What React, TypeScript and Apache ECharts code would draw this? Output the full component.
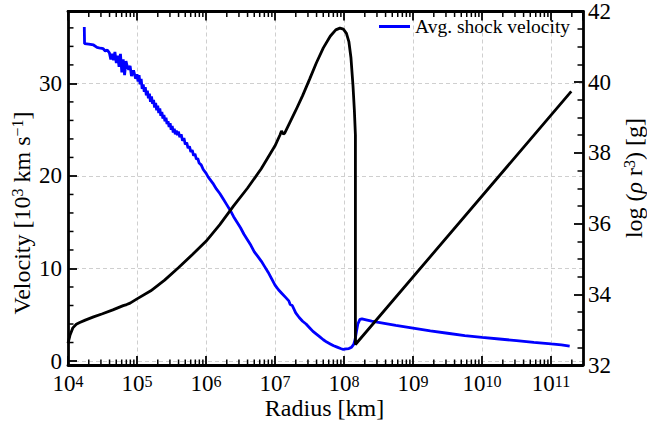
import React, { useEffect, useRef } from "react";
import * as echarts from "echarts";

const FONT = "Liberation Serif, Times New Roman, serif";

// Blue curve: average shock velocity [10^3 km/s] (left axis) vs log10(radius [km])
const shockLogRadius = [
  4.236, 4.24, 4.3, 4.37, 4.42, 4.47, 4.51, 4.54, 4.57, 4.6, 4.62, 4.64, 4.66, 4.68, 4.7, 4.72, 4.74, 4.76,
  4.78, 4.8, 4.82, 4.84, 4.86, 4.88, 4.9, 4.92, 4.95, 4.98,
  5.0, 5.015, 5.03, 5.045, 5.06, 5.075, 5.09, 5.105, 5.12, 5.135, 5.15, 5.165, 5.18, 5.195, 5.21, 5.225,
  5.24, 5.255, 5.27, 5.285, 5.3, 5.315, 5.33, 5.345, 5.36, 5.375, 5.39, 5.405, 5.42, 5.435, 5.45, 5.465,
  5.48, 5.495, 5.51, 5.525, 5.54, 5.555, 5.57, 5.585, 5.6, 5.62, 5.64, 5.66, 5.68, 5.7, 5.72, 5.74, 5.76,
  5.78, 5.8, 5.82, 5.84, 5.86, 5.88, 5.9, 5.93, 5.96, 6.0, 6.03, 6.06,
  6.1, 6.15, 6.2, 6.25, 6.3, 6.35, 6.4, 6.45, 6.5, 6.55, 6.6, 6.65,
  6.7, 6.75, 6.8, 6.85, 6.9, 6.95, 7.0, 7.05, 7.1, 7.15, 7.2, 7.22, 7.25, 7.3, 7.35, 7.4, 7.45, 7.5, 7.55,
  7.6, 7.65, 7.7, 7.75, 7.8, 7.85, 7.9, 7.95, 7.99, 8.03, 8.07, 8.11, 8.14, 8.16, 8.18, 8.2, 8.23, 8.26,
  8.32, 8.4, 8.5, 8.75, 9.0, 9.25, 9.5, 9.75, 10.0, 10.25, 10.5, 10.75, 11.0, 11.15, 11.27,
];
const shockVelocity = [
  36.1, 34.3, 34.25, 34.15, 33.9, 33.8, 33.75, 33.5, 33.6, 33.3, 32.6, 33.2, 32.5, 33.4, 32.2, 33.0, 31.8, 33.2,
  31.2, 32.6, 30.9, 32.4, 31.8, 31.5, 31.9, 30.8, 31.4, 30.5,
  31.0, 30.2, 30.9, 29.9, 30.5, 29.4, 29.9, 29.1, 29.6, 28.7, 29.2, 28.4, 28.9, 28.0, 28.6, 27.8,
  28.2, 27.4, 27.9, 27.1, 27.6, 26.8, 27.3, 26.5, 26.9, 26.2, 26.6, 25.9, 26.3, 25.6, 25.9, 25.3,
  25.7, 25.0, 25.4, 24.7, 25.1, 24.5, 24.9, 24.4, 24.8, 24.2, 24.5, 23.8, 24.1, 23.4, 23.6, 23.0, 23.2,
  22.6, 22.8, 22.2, 22.4, 21.8, 21.9, 21.4, 21.2, 20.7, 20.3, 19.9, 19.6,
  19.2, 18.6, 18.1, 17.5, 16.9, 16.3, 15.6, 15.0, 14.4, 13.7, 13.1, 12.5,
  11.8, 11.3, 10.8, 10.2, 9.6, 8.9, 8.2, 7.7, 7.3, 6.9, 6.5, 6.1, 6.0, 5.2, 4.7, 4.3, 4.0, 3.6, 3.2,
  2.9, 2.6, 2.3, 2.05, 1.85, 1.65, 1.5, 1.35, 1.25, 1.3, 1.35, 1.5, 1.8, 2.3, 3.2, 4.0, 4.5, 4.55,
  4.45, 4.3, 4.18, 3.85, 3.55, 3.25, 3.0, 2.75, 2.55, 2.38, 2.2, 2.02, 1.85, 1.75, 1.62,
];

// Black curve: log(rho r^3) [g] (right axis) vs log10(radius [km])
const densityLogRadius = [
  4.0, 4.03, 4.07, 4.12, 4.17, 4.25, 4.37, 4.5, 4.65, 4.8, 4.85, 4.9, 5.0, 5.2, 5.4, 5.6, 5.8, 6.0, 6.2, 6.4,
  6.6, 6.8, 7.0, 7.07, 7.094, 7.12, 7.14, 7.2, 7.3, 7.4, 7.5, 7.6, 7.7, 7.8, 7.88, 7.94, 7.99, 8.035, 8.07,
  8.1, 8.13, 8.15, 8.165, 8.165, 11.293,
];
const densityLogRhoR3 = [
  32.61, 32.85, 33.05, 33.15, 33.2, 33.27, 33.36, 33.45, 33.56, 33.68, 33.71, 33.75, 33.87, 34.1, 34.4, 34.75,
  35.12, 35.5, 35.97, 36.5, 37.0, 37.55, 38.2, 38.5, 38.62, 38.53, 38.56, 38.8, 39.2, 39.62, 40.08, 40.55,
  40.97, 41.3, 41.48, 41.53, 41.5, 41.38, 41.15, 40.7, 39.9, 39.2, 38.5, 32.58, 39.74,
];

// Axes / ticks
const xDecades = [4, 5, 6, 7, 8, 9, 10, 11];
const xMinorMultipliers = [2, 3, 4, 5, 6, 7, 8, 9];
const velocityMinorTicks = [2, 4, 6, 8, 12, 14, 16, 18, 22, 24, 26, 28, 32, 34, 36];
const legendLabels = ["Avg. shock velocity"];

const X_MIN = 4;
const X_MAX = 11.463;
const V_MIN = -0.43;
const V_MAX = 37.77;
const D_MIN = 32;
const D_MAX = 42;

const MAJOR_LEN = 9;
const MINOR_LEN = 5.5;

export default function App() {
  const ref = useRef<HTMLDivElement>(null);

  useEffect(() => {
    document.body.style.margin = "0";
    if (!ref.current) return;
    const chart = echarts.init(ref.current, undefined, { renderer: "svg" });

    const xMinor: number[][] = [];
    xDecades.forEach((d) => {
      xMinorMultipliers.forEach((k) => {
        const v = d + Math.log10(k);
        if (v < X_MAX) xMinor.push([v, 0]);
      });
    });

    const axisLine = { show: true, onZero: false, lineStyle: { color: "#000", width: 2.8 } };
    const majorTick = { show: true, inside: true, length: MAJOR_LEN, lineStyle: { color: "#000", width: 1.8 } };
    const grid = { color: "#cfcfcf", width: 1, type: [4, 3] as any };

    const xLabelRich = {
      b: { fontSize: 23, fontFamily: FONT, color: "#000", lineHeight: 21 },
      s: { fontSize: 16, fontFamily: FONT, color: "#000", lineHeight: 9, verticalAlign: "top" as const },
    };

    const option: any = {
      animation: false,
      textStyle: { fontFamily: FONT },
      grid: { left: 68, right: 64, top: 6, bottom: 60, containLabel: false },
      legend: {
        data: legendLabels,
        left: 379,
        top: 16.5,
        padding: 0,
        icon: "rect",
        itemWidth: 31,
        itemHeight: 3,
        textStyle: { fontFamily: FONT, fontSize: 19.5, color: "#000" },
      },
      xAxis: [
        {
          type: "value",
          min: X_MIN,
          max: X_MAX,
          interval: 1,
          position: "bottom",
          axisLine,
          axisTick: majorTick,
          axisLabel: {
            margin: 8,
            showMaxLabel: false,
            fontFamily: FONT,
            fontSize: 23,
            color: "#000",
            formatter: (v: number) =>
              Math.abs(v - Math.round(v)) < 1e-6 ? `{b|10}{s|${Math.round(v)}}` : "",
            rich: xLabelRich,
          },
          splitLine: { show: true, showMinLine: false, showMaxLine: false, lineStyle: grid },
        },
        {
          type: "value",
          min: X_MIN,
          max: X_MAX,
          interval: 1,
          position: "top",
          axisLine,
          axisTick: majorTick,
          axisLabel: { show: false },
          splitLine: { show: false },
        },
      ],
      yAxis: [
        {
          type: "value",
          min: V_MIN,
          max: V_MAX,
          splitNumber: 4,
          position: "left",
          axisLine,
          axisTick: majorTick,
          axisLabel: {
            margin: 6,
            showMinLabel: false,
            showMaxLabel: false,
            fontFamily: FONT,
            fontSize: 23,
            lineHeight: 17,
            padding: [0, 0, 2, 0],
            color: "#000",
            formatter: (v: number) => (Math.abs(v / 10 - Math.round(v / 10)) < 1e-6 ? String(Math.round(v)) : ""),
          },
          splitLine: { show: true, showMinLine: false, showMaxLine: false, lineStyle: grid },
        },
        {
          type: "value",
          min: D_MIN,
          max: D_MAX,
          interval: 2,
          position: "right",
          axisLine,
          axisTick: majorTick,
          minorTick: { show: true, splitNumber: 4, length: MINOR_LEN, lineStyle: { color: "#000", width: 1.5 } },
          axisLabel: { margin: 5, fontFamily: FONT, fontSize: 23, lineHeight: 17, color: "#000" },
          splitLine: { show: false },
        },
      ],
      graphic: [
        {
          type: "text",
          x: 324.5,
          y: 408,
          style: {
            text: "Radius [km]",
            fontFamily: FONT,
            fontSize: 24,
            lineHeight: 20,
            fill: "#000",
            align: "center",
            verticalAlign: "middle",
          },
        },
        {
          type: "text",
          x: 22,
          y: 213,
          rotation: Math.PI / 2,
          style: {
            text: "{a|Velocity [10}{s|3}{a| km s}{s|\u22121}{a|]}",
            fontFamily: FONT,
            align: "center",
            verticalAlign: "middle",
            rich: {
              a: { fontFamily: FONT, fontSize: 24, fill: "#000", lineHeight: 26 },
              s: { fontFamily: FONT, fontSize: 16, fill: "#000", lineHeight: 12, verticalAlign: "top" },
            },
          },
        },
        {
          type: "text",
          x: 634,
          y: 178,
          rotation: Math.PI / 2,
          style: {
            text: "{a|log (}{i|\u03c1}{a| r}{s|3}{a|) [g]}",
            fontFamily: FONT,
            align: "center",
            verticalAlign: "middle",
            rich: {
              a: { fontFamily: FONT, fontSize: 24, fill: "#000", lineHeight: 26 },
              i: { fontFamily: FONT, fontSize: 24, fontStyle: "italic", fill: "#000", lineHeight: 26 },
              s: { fontFamily: FONT, fontSize: 16, fill: "#000", lineHeight: 12, verticalAlign: "top" },
            },
          },
        },
      ],
      series: [
        {
          name: legendLabels[0],
          type: "line",
          xAxisIndex: 0,
          yAxisIndex: 0,
          data: shockLogRadius.map((x, i) => [x, shockVelocity[i]]),
          symbol: "none",
          showSymbol: false,
          lineStyle: { color: "#0000ff", width: 2.8 },
          itemStyle: { color: "#0000ff" },
          z: 3,
        },
        {
          name: "log rho r3",
          type: "line",
          xAxisIndex: 0,
          yAxisIndex: 1,
          data: densityLogRadius.map((x, i) => [x, densityLogRhoR3[i]]),
          symbol: "none",
          showSymbol: false,
          lineStyle: { color: "#000", width: 2.8 },
          itemStyle: { color: "#000" },
          z: 4,
        },
        {
          name: "x minor ticks",
          type: "custom",
          xAxisIndex: 0,
          yAxisIndex: 0,
          silent: true,
          z: 6,
          data: xMinor,
          renderItem: (params: any, api: any) => {
            const cs = params.coordSys;
            const px = api.coord([api.value(0), 0])[0];
            const bottom = cs.y + cs.height;
            const top = cs.y;
            const st = { stroke: "#000", lineWidth: 1.5 };
            return {
              type: "group",
              children: [
                { type: "line", shape: { x1: px, y1: bottom, x2: px, y2: bottom - MINOR_LEN }, style: st },
                { type: "line", shape: { x1: px, y1: top, x2: px, y2: top + MINOR_LEN }, style: st },
              ],
            };
          },
        },
        {
          name: "v minor ticks",
          type: "custom",
          xAxisIndex: 0,
          yAxisIndex: 0,
          silent: true,
          z: 6,
          data: velocityMinorTicks.map((v) => [X_MIN, v]),
          renderItem: (params: any, api: any) => {
            const cs = params.coordSys;
            const py = api.coord([X_MIN, api.value(1)])[1];
            return {
              type: "line",
              shape: { x1: cs.x, y1: py, x2: cs.x + MINOR_LEN, y2: py },
              style: { stroke: "#000", lineWidth: 1.5 },
            };
          },
        },
      ],
    };

    chart.setOption(option);
    return () => chart.dispose();
  }, []);

  return <div ref={ref} style={{ width: 647, height: 425 }} />;
}
